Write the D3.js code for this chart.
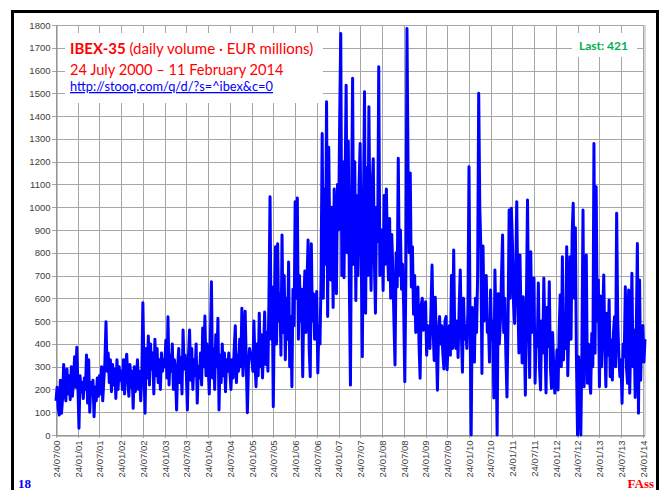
<!DOCTYPE html>
<html>
<head>
<meta charset="utf-8">
<script src="https://cdn.jsdelivr.net/npm/d3@7"></script>
<style>
  body { margin: 0; background: #fff; }
  svg { display: block; font-family: Lato, "Open Sans", sans-serif; }
</style>
</head>
<body>
<svg id="chart"></svg>
<script>
const width = 665;
const height = 490;
const plot = {left: 56, right: 645, top: 25, bottom: 435};

// half-year tick dates (24 Jan / 24 Jul), axis ends 11 Feb 2014
const tickDates = ['2000-07-24', '2001-01-24', '2001-07-24', '2002-01-24', '2002-07-24', '2003-01-24',
  '2003-07-24', '2004-01-24', '2004-07-24', '2005-01-24', '2005-07-24', '2006-01-24', '2006-07-24',
  '2007-01-24', '2007-07-24', '2008-01-24', '2008-07-24', '2009-01-24', '2009-07-24', '2010-01-24',
  '2010-07-24', '2011-01-24', '2011-07-24', '2012-01-24', '2012-07-24', '2013-01-24', '2013-07-24',
  '2014-01-24'];
const endDate = '2014-02-11';
const yTicks = d3.range(0, 1801, 100);

// daily volume (EUR millions)
// each year: 20 values 24 Jan - 24 Jul, then 20 values 24 Jul - 24 Jan
const vol2000 = [150, 210, 120, 88, 240, 95, 160, 310, 200, 150, 290, 180, 260, 155, 300, 170, 240, 344, 210, 385];
const vol2001 = [220, 30, 260, 190, 230, 160, 250, 200, 351, 140, 330, 100, 230, 180, 240, 80, 210, 150, 250, 170,
  260, 180, 300, 150, 240, 320, 497, 280, 360, 230, 330, 190, 310, 220, 290, 160, 330, 200, 300, 240];
const vol2002 = [280, 200, 330, 180, 300, 355, 240, 170, 310, 210, 280, 117, 300, 190, 260, 330, 200, 280, 150, 250,
  581, 300, 96, 380, 250, 435, 220, 400, 290, 360, 180, 420, 260, 380, 230, 330, 200, 360, 280, 330];
const vol2003 = [300, 416, 250, 519, 220, 350, 280, 400, 200, 330, 260, 110, 300, 380, 230, 340, 180, 461, 290, 350,
  280, 110, 350, 461, 240, 380, 200, 330, 260, 400, 140, 300, 250, 360, 220, 470, 300, 522, 260, 400];
const vol2004 = [300, 180, 420, 673, 250, 380, 200, 440, 300, 513, 110, 350, 230, 400, 260, 360, 190, 330, 280, 360,
  280, 200, 330, 250, 380, 480, 230, 350, 280, 420, 300, 557, 260, 400, 543, 320, 98, 300, 380, 350];
const vol2005 = [350, 280, 500, 320, 212, 400, 260, 535, 300, 440, 250, 380, 540, 310, 450, 280, 600, 1046, 420, 650,
  124, 550, 826, 400, 840, 500, 620, 350, 878, 450, 700, 330, 600, 420, 760, 300, 520, 212, 640, 480];
const vol2006 = [1024, 600, 1040, 420, 700, 500, 640, 256, 580, 720, 450, 680, 856, 380, 256, 840, 500, 620, 420, 560,
  630, 272, 480, 400, 700, 1324, 600, 1080, 750, 1463, 520, 1263, 800, 680, 1000, 560, 1080, 900, 620, 1100];
const vol2007 = [900, 1383, 1763, 700, 1200, 690, 1100, 1536, 800, 1290, 650, 219, 1000, 1566, 750, 1200, 590, 1050, 700, 1100,
  1280, 800, 344, 1000, 1507, 535, 1174, 700, 1441, 900, 634, 1100, 1213, 760, 535, 1000, 850, 1617, 700, 900];
const vol2008 = [900, 634, 1051, 750, 1080, 820, 680, 950, 600, 880, 720, 500, 307, 800, 650, 1215, 700, 900, 640, 750,
  555, 234, 700, 1785, 1155, 800, 1150, 650, 827, 530, 700, 450, 530, 650, 400, 249, 570, 600, 460, 520];
const vol2009 = [585, 350, 480, 420, 380, 550, 746, 460, 327, 605, 400, 197, 450, 520, 400, 480, 360, 290, 500, 520,
  287, 420, 480, 350, 700, 380, 812, 420, 380, 500, 340, 560, 724, 450, 276, 600, 420, 480, 380, 550];
const vol2010 = [1178, 480, 0, 560, 420, 320, 600, 450, 700, 1500, 1000, 820, 270, 830, 500, 640, 700, 450, 500, 320,
  637, 418, 500, 162, 724, 450, 0, 620, 400, 500, 700, 878, 450, 600, 350, 167, 500, 988, 600, 995];
const vol2011 = [841, 580, 490, 700, 1024, 600, 360, 790, 500, 316, 607, 450, 175, 600, 1032, 500, 252, 805, 450, 600,
  689, 227, 450, 388, 667, 300, 198, 500, 360, 689, 420, 184, 560, 388, 673, 300, 205, 450, 300, 184];
const vol2012 = [240, 373, 198, 450, 615, 300, 783, 329, 490, 380, 827, 260, 500, 783, 420, 877, 1017, 600, 910, 329,
  0, 344, 150, 0, 373, 988, 212, 600, 790, 227, 400, 241, 183, 446, 300, 1280, 359, 1090, 500, 680];
const vol2013 = [212, 610, 300, 519, 702, 400, 212, 534, 350, 593, 256, 417, 241, 450, 519, 300, 973, 505, 350, 256,
  329, 139, 400, 344, 651, 300, 227, 637, 183, 450, 710, 300, 461, 165, 461, 841, 95, 680, 240, 470];
const vol2014 = [480, 320, 421];

const years = [vol2000, vol2001, vol2002, vol2003, vol2004, vol2005, vol2006,
  vol2007, vol2008, vol2009, vol2010, vol2011, vol2012, vol2013];

const parse = d3.timeParse('%Y-%m-%d');
const ticks = tickDates.map(parse);
const end = parse(endDate);

// split years into half-year chunks and place each value inside its half-year
const halves = [];
years.forEach(arr => { for (let i = 0; i < arr.length; i += 20) halves.push(arr.slice(i, i + 20)); });
const points = [];
halves.forEach((vals, k) => {
  const a = ticks[k], b = ticks[k + 1];
  vals.forEach((v, i) => points.push({date: new Date(+a + (b - a) * i / vals.length), value: v}));
});
vol2014.forEach((v, i) => {
  const a = ticks[ticks.length - 1];
  points.push({date: new Date(+a + (end - a) * i / (vol2014.length - 1)), value: v});
});

const svg = d3.select('#chart').attr('width', width).attr('height', height);

const x = d3.scaleTime().domain([ticks[0], end]).range([plot.left, plot.right]);
const y = d3.scaleLinear().domain([0, 1800]).range([plot.bottom, plot.top]);

// outer frame
svg.append('rect')
  .attr('x', 12.5).attr('y', 11.5).attr('width', 645).attr('height', 500)
  .attr('fill', 'none').attr('stroke', '#000').attr('stroke-width', 3);

// grid
svg.append('g').selectAll('line').data(yTicks).enter().append('line')
  .attr('x1', plot.left - 4).attr('x2', plot.right)
  .attr('y1', d => Math.round(y(d)) + 0.5).attr('y2', d => Math.round(y(d)) + 0.5)
  .attr('stroke', '#a6a6a6');
svg.append('g').selectAll('line').data(ticks).enter().append('line')
  .attr('x1', d => Math.round(x(d)) + 0.5).attr('x2', d => Math.round(x(d)) + 0.5)
  .attr('y1', plot.top).attr('y2', plot.bottom + 3)
  .attr('stroke', '#a6a6a6');
svg.append('line')
  .attr('x1', plot.right).attr('x2', plot.right).attr('y1', plot.top).attr('y2', plot.bottom)
  .attr('stroke', '#d9d9d9').attr('stroke-width', 2);

// white boxes behind the notes
svg.append('rect').attr('x', 65).attr('y', 33).attr('width', 258).attr('height', 70).attr('fill', '#fff');
svg.append('rect').attr('x', 572).attr('y', 33).attr('width', 65).attr('height', 24).attr('fill', '#fff');

// axes
const yAxis = svg.append('g')
  .attr('transform', `translate(${plot.left + 0.5}, 0)`)
  .call(d3.axisLeft(y).tickValues(yTicks).tickFormat(d3.format('d')).tickSize(0).tickPadding(6));
yAxis.select('.domain').attr('stroke', '#868686');
yAxis.selectAll('text').attr('font-size', 9.5).attr('fill', '#404040');

const xAxis = svg.append('g')
  .attr('transform', `translate(0, ${plot.bottom + 0.5})`)
  .call(d3.axisBottom(x).tickValues(ticks).tickFormat(d3.timeFormat('%d/%m/%y')).tickSize(0));
xAxis.select('.domain').attr('stroke', '#868686');
xAxis.selectAll('text')
  .attr('transform', 'rotate(-90)')
  .attr('text-anchor', 'end')
  .attr('x', -5).attr('y', 0).attr('dy', '0.35em')
  .attr('font-size', 9.5).attr('fill', '#404040');

// volume line
svg.append('path')
  .datum(points)
  .attr('fill', 'none')
  .attr('stroke', '#0000ff')
  .attr('stroke-width', 3)
  .attr('stroke-linejoin', 'round')
  .attr('d', d3.line().x(d => x(d.date)).y(d => y(d.value)));

// notes
const t1 = svg.append('text').attr('x', 70).attr('y', 54).attr('fill', '#ff0000').attr('font-size', 15);
t1.append('tspan').attr('font-weight', 'bold').text('IBEX-35');
t1.append('tspan').text(' (daily volume · EUR millions)');
svg.append('text').attr('x', 70).attr('y', 75).attr('fill', '#ff0000').attr('font-size', 14.6)
  .text('24 July 2000 – 11 February 2014');
svg.append('text').attr('x', 70).attr('y', 91).attr('fill', '#0000ff').attr('font-size', 12.8)
  .attr('text-decoration', 'underline')
  .text('http://stooq.com/q/d/?s=^ibex&c=0');
svg.append('text').attr('x', 579).attr('y', 50).attr('fill', '#00b050').attr('font-size', 12)
  .attr('font-weight', 'bold').text('Last: 421');

svg.append('text').attr('x', 18).attr('y', 488).attr('fill', '#0000ff')
  .attr('font-family', '"Liberation Serif", serif').attr('font-weight', 'bold').attr('font-size', 13)
  .text('18');
svg.append('text').attr('x', 654).attr('y', 488).attr('text-anchor', 'end').attr('fill', '#ff0000')
  .attr('font-family', '"Liberation Serif", serif').attr('font-weight', 'bold').attr('font-size', 13)
  .text('FAss');
</script>
</body>
</html>
